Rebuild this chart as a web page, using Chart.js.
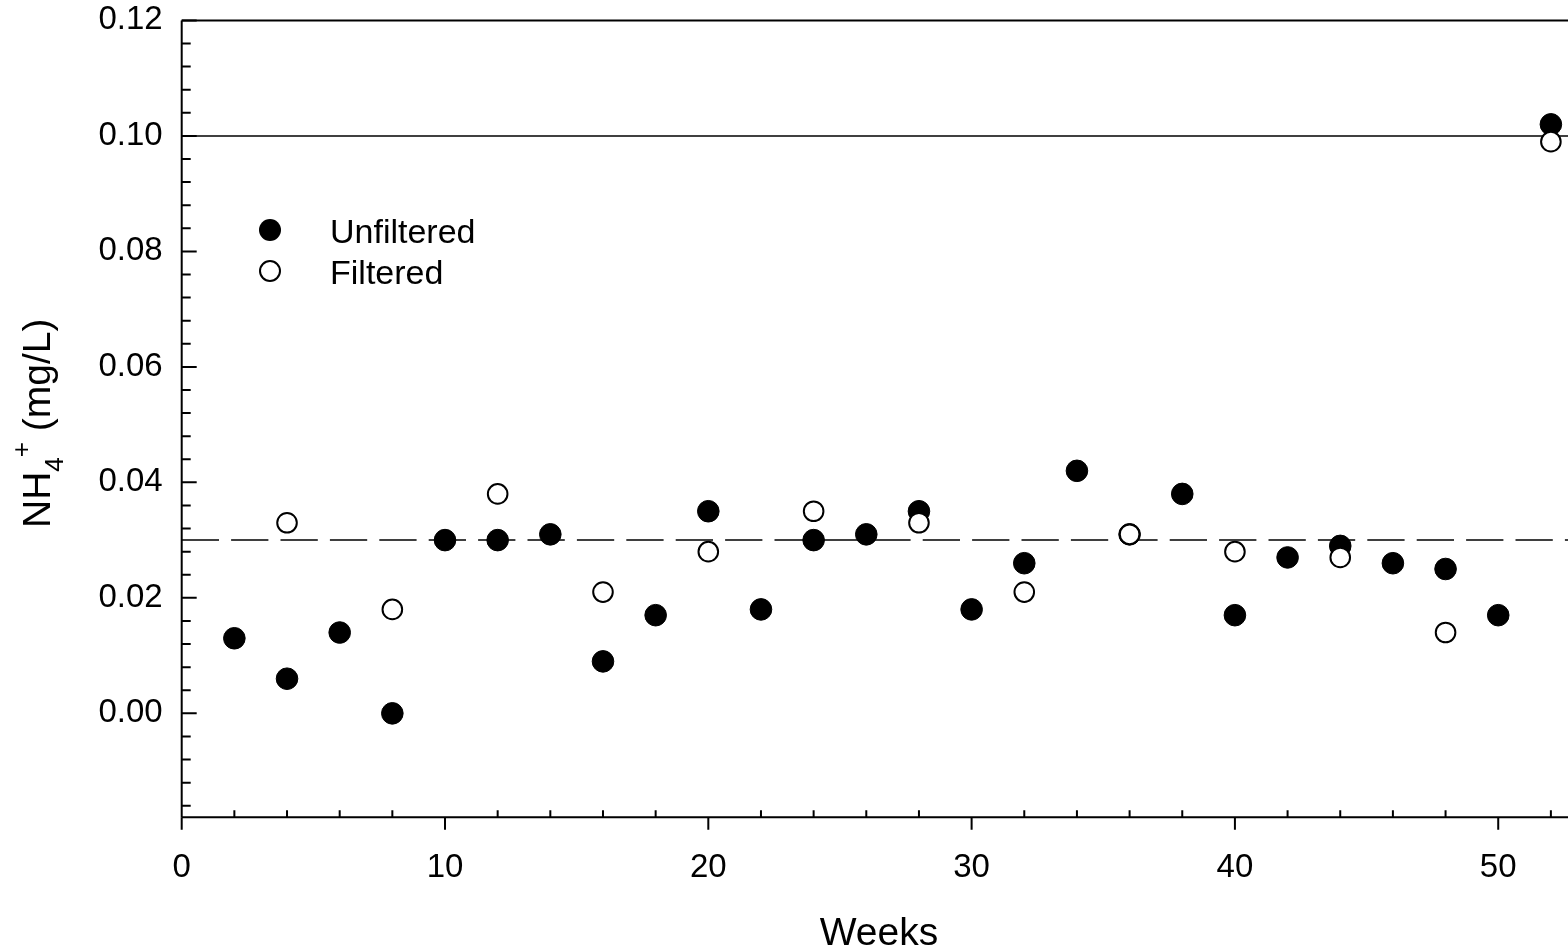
<!DOCTYPE html>
<html>
<head>
<meta charset="utf-8">
<title>NH4+ by week</title>
<script src="https://cdn.jsdelivr.net/npm/chart.js@4.4.1/dist/chart.umd.min.js"></script>
<style>
  html, body { margin: 0; padding: 0; background: #fff; overflow: hidden; }
  #wrap { width: 1568px; height: 952px; position: relative; }
</style>
</head>
<body>
<div id="wrap"><canvas id="c" width="1568" height="952"></canvas></div>
<script>
// Sampling weeks and NH4+ concentrations (mg/L)
const unfilteredWeeks = [2, 4, 6, 8, 10, 12, 14, 16, 18, 20, 22, 24, 26, 28, 30, 32, 34, 36, 38, 40, 42, 44, 46, 48, 50, 52];
const unfilteredValues = [0.013, 0.006, 0.014, 0.000, 0.030, 0.030, 0.031, 0.009, 0.017, 0.035, 0.018, 0.030, 0.031, 0.035, 0.018, 0.026, 0.042, 0.031, 0.038, 0.017, 0.027, 0.029, 0.026, 0.025, 0.017, 0.102];

const filteredWeeks = [4, 8, 12, 16, 20, 24, 28, 32, 36, 40, 44, 48, 52];
const filteredValues = [0.033, 0.018, 0.038, 0.021, 0.028, 0.035, 0.033, 0.021, 0.031, 0.028, 0.027, 0.014, 0.099];

// Axis tick labels
const xTickValues = [0, 10, 20, 30, 40, 50];
const yTickValues = [0.00, 0.02, 0.04, 0.06, 0.08, 0.10, 0.12];

// Horizontal reference levels
const limitLevel = 0.10;   // solid line
const meanLevel = 0.03;    // dashed line

const seriesNames = ['Unfiltered', 'Filtered'];

const FONT = "'Liberation Sans', Arial, Helvetica, sans-serif";

function toPoints(xs, ys) {
  return xs.map((w, i) => ({ x: w, y: ys[i] }));
}

function noScalePadding(s) {
  s.paddingTop = 0; s.paddingBottom = 0; s.paddingLeft = 0; s.paddingRight = 0;
}

// Axis frame, tick marks, reference lines
const framePlugin = {
  id: 'frame',
  beforeDatasetsDraw(chart) {
    const { ctx, chartArea: { left, right, top, bottom }, scales: { x, y } } = chart;
    ctx.save();
    ctx.strokeStyle = '#000';

    // reference lines
    ctx.lineWidth = 1.5;
    const yl = y.getPixelForValue(limitLevel);
    ctx.beginPath(); ctx.moveTo(left, yl); ctx.lineTo(right, yl); ctx.stroke();
    const ym = y.getPixelForValue(meanLevel);
    ctx.setLineDash([37.3, 12.1]);
    ctx.beginPath(); ctx.moveTo(left, ym); ctx.lineTo(right, ym); ctx.stroke();
    ctx.setLineDash([]);

    // frame (the plot continues past the right edge of the canvas)
    ctx.lineWidth = 2;
    ctx.beginPath();
    ctx.moveTo(left, top); ctx.lineTo(right, top);
    ctx.moveTo(left, bottom); ctx.lineTo(right, bottom);
    ctx.moveTo(left, top); ctx.lineTo(left, bottom);
    ctx.stroke();

    // y ticks: majors every 0.02, minors every 0.004 (inward)
    ctx.beginPath();
    for (let k = -4; k <= 30; k++) {
      const v = k * 0.004;
      if (v < y.min - 1e-9 || v > y.max + 1e-9) continue;
      const py = y.getPixelForValue(v);
      const len = (k % 5 === 0) ? 15 : 9;
      ctx.moveTo(left, py); ctx.lineTo(left + len, py);
    }
    // x ticks: majors every 10 (outward), minors every 2 (inward)
    for (let w = 0; w <= x.max; w += 2) {
      const px = x.getPixelForValue(w);
      if (w % 10 === 0) {
        ctx.moveTo(px, bottom); ctx.lineTo(px, bottom + 12.5);
      } else {
        ctx.moveTo(px, bottom); ctx.lineTo(px, bottom - 7);
      }
    }
    ctx.stroke();
    ctx.restore();
  },
  afterDraw(chart) {
    const { ctx } = chart;
    ctx.save();
    ctx.fillStyle = '#000';
    ctx.strokeStyle = '#000';

    // legend
    const ds = chart.data.datasets;
    ctx.beginPath(); ctx.arc(270, 230, 11, 0, Math.PI * 2);
    ctx.fillStyle = ds[0].backgroundColor; ctx.fill();
    ctx.beginPath(); ctx.arc(270, 271, 10, 0, Math.PI * 2);
    ctx.fillStyle = ds[1].backgroundColor; ctx.fill();
    ctx.lineWidth = 2; ctx.stroke();
    ctx.fillStyle = '#000';
    ctx.font = '34px ' + FONT;
    ctx.textAlign = 'left';
    ctx.textBaseline = 'alphabetic';
    ctx.fillText(ds[0].label, 330, 243);
    ctx.fillText(ds[1].label, 330, 284);

    // x axis title
    ctx.font = '39px ' + FONT;
    ctx.textAlign = 'center';
    ctx.fillText('Weeks', 879, 945);

    // y axis title: NH4+ (mg/L) with sub/superscript
    ctx.translate(50, 528);
    ctx.rotate(-Math.PI / 2);
    ctx.textAlign = 'left';
    let cx = 0;
    ctx.font = '39px ' + FONT;
    ctx.fillText('NH', cx, 0);
    cx += ctx.measureText('NH').width;
    ctx.font = '26px ' + FONT;
    ctx.fillText('4', cx, 13);
    cx += ctx.measureText('4').width;
    ctx.fillText('+', cx, -20);
    cx += ctx.measureText('+').width;
    ctx.font = '39px ' + FONT;
    ctx.fillText(' (mg/L)', cx, 0);
    ctx.restore();
  }
};

new Chart(document.getElementById('c'), {
  type: 'scatter',
  data: {
    datasets: [
      {
        label: seriesNames[0],
        data: toPoints(unfilteredWeeks, unfilteredValues),
        backgroundColor: '#000',
        borderColor: '#000',
        borderWidth: 1,
        pointRadius: 10.8,
        order: 2
      },
      {
        label: seriesNames[1],
        data: toPoints(filteredWeeks, filteredValues),
        backgroundColor: '#fff',
        borderColor: '#000',
        borderWidth: 2,
        pointRadius: 9.8,
        order: 1
      }
    ]
  },
  options: {
    responsive: false,
    animation: false,
    devicePixelRatio: 1,
    layout: { autoPadding: false, padding: { top: 20.4, right: 0, left: 0, bottom: 0 } },
    plugins: {
      legend: { display: false },
      tooltip: { enabled: false }
    },
    scales: {
      x: {
        type: 'linear',
        min: 0,
        max: 52.65,
        grid: { display: false },
        border: { display: false },
        afterBuildTicks: s => { s.ticks = xTickValues.map(v => ({ value: v })); },
        afterFit: s => { s.height = 134.7; noScalePadding(s); },
        ticks: {
          color: '#000',
          padding: 23,
          font: { family: FONT, size: 33 },
          callback: v => String(v)
        }
      },
      y: {
        type: 'linear',
        min: -0.018,
        max: 0.12,
        grid: { display: false },
        border: { display: false },
        afterBuildTicks: s => { s.ticks = yTickValues.map(v => ({ value: v })); },
        afterFit: s => { s.width = 181.7; noScalePadding(s); },
        ticks: {
          color: '#000',
          padding: 11,
          font: { family: FONT, size: 33 },
          callback: v => Number(v).toFixed(2)
        }
      }
    }
  },
  plugins: [framePlugin]
});
</script>
</body>
</html>
